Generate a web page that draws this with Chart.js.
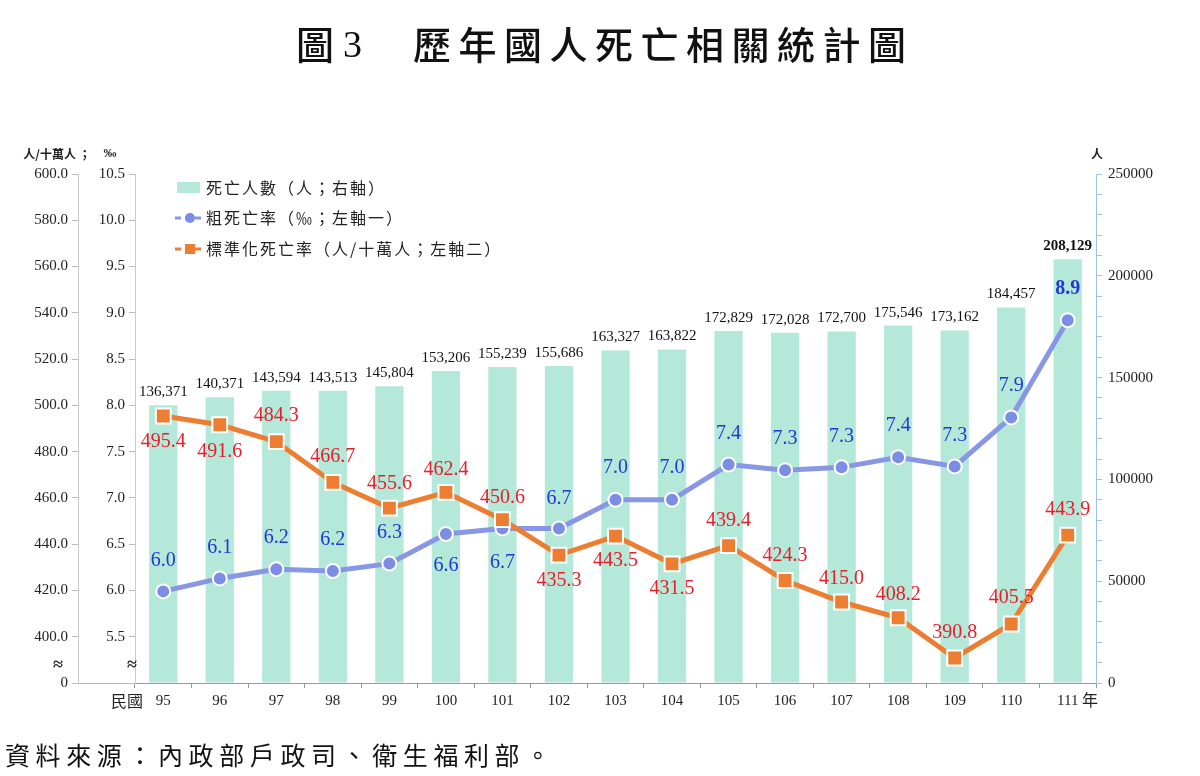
<!DOCTYPE html>
<html>
<head>
<meta charset="utf-8">
<script src="https://cdn.jsdelivr.net/npm/chart.js@4"></script>
<style>
  html, body { margin: 0; padding: 0; background: #fff; }
  #wrap { position: relative; width: 1200px; height: 776px; }
</style>
</head>
<body>
<div id="wrap"><canvas id="chart"></canvas></div>
<script>
// geral
Chart.defaults.font.family = '"Liberation Serif", "Noto Sans CJK TC", serif';
Chart.defaults.color = '#222';

const anos = ['95', '96', '97', '98', '99', '100', '101', '102', '103', '104', '105', '106', '107', '108', '109', '110', '111'];
const mortes = [136371, 140371, 143594, 143513, 145804, 153206, 155239, 155686, 163327, 163822, 172829, 172028, 172700, 175546, 173162, 184457, 208129];
const taxaBruta = [5.99, 6.13, 6.23, 6.21, 6.29, 6.61, 6.67, 6.67, 6.98, 6.98, 7.36, 7.30, 7.33, 7.44, 7.34, 7.87, 8.92];
const taxaPadrao = [495.4, 491.6, 484.3, 466.7, 455.6, 462.4, 450.6, 435.3, 443.5, 431.5, 439.4, 424.3, 415.0, 408.2, 390.8, 405.5, 443.9];

// onde ficam os rótulos (acima / abaixo do ponto)
const posBruta = [-31, -31, -31, -31, -31, 32, 34, -30, -32, -32, -31, -31, -31, -31, -31, -32, -31];
const posPadrao = [26, 27, -26, -26, -24, -23, -22, 26, 25, 25, -25, -25, -23, -23, -25, -26, -25];

const CJK = '"Noto Sans CJK TC", sans-serif';
const SERIF = '"Liberation Serif", serif';
const verde = '#b4e8d8';
const azul = '#8797e6';
const laranja = '#ed7d31';

function texto(ctx, str, x, y, font, color, align, spacing) {
    ctx.font = font;
    ctx.fillStyle = color;
    ctx.textAlign = align || 'left';
    ctx.textBaseline = 'middle';
    ctx.letterSpacing = spacing || '0px';
    ctx.fillText(str, x, y);
    ctx.letterSpacing = '0px';
}

// textos, legenda e rótulos
const extras = {
    id: 'extras',
    afterDatasetsDraw(chart) {
        const { ctx, chartArea: { left, right, bottom } } = chart;
        ctx.save();

        // rótulos das barras
        const mb = chart.getDatasetMeta(0);
        mb.data.forEach((bar, i) => {
            const ultimo = i === mortes.length - 1;
            texto(ctx, mortes[i].toLocaleString('en-US'), bar.x, bar.y - 13,
                (ultimo ? 'bold ' : '') + '15px ' + SERIF, '#111', 'center');
        });

        // rótulos das linhas
        const m1 = chart.getDatasetMeta(1);
        m1.data.forEach((p, i) => {
            const ultimo = i === taxaBruta.length - 1;
            texto(ctx, taxaBruta[i].toFixed(1), p.x, p.y + posBruta[i],
                (ultimo ? 'bold ' : '') + '20px ' + SERIF, '#2436d4', 'center');
        });
        const m2 = chart.getDatasetMeta(2);
        m2.data.forEach((p, i) => {
            texto(ctx, taxaPadrao[i].toFixed(1), p.x, p.y + posPadrao[i],
                '20px ' + SERIF, '#e3202b', 'center');
        });

        // legenda
        ctx.fillStyle = verde;
        ctx.fillRect(177, 182, 23, 11);
        texto(ctx, '死亡人數（人；右軸）', 206, 188, '16px ' + CJK, '#222', 'left', '2px');

        ctx.strokeStyle = azul;
        ctx.lineWidth = 3;
        ctx.setLineDash([6, 4]);
        ctx.beginPath(); ctx.moveTo(175, 218); ctx.lineTo(205, 218); ctx.stroke();
        ctx.setLineDash([]);
        ctx.fillStyle = '#7b8de4';
        ctx.beginPath(); ctx.arc(190, 218, 5, 0, Math.PI * 2); ctx.fill();
        texto(ctx, '粗死亡率（‰；左軸一）', 206, 218, '16px ' + CJK, '#222', 'left', '2px');

        ctx.strokeStyle = laranja;
        ctx.setLineDash([6, 4]);
        ctx.beginPath(); ctx.moveTo(175, 249); ctx.lineTo(205, 249); ctx.stroke();
        ctx.setLineDash([]);
        ctx.fillStyle = laranja;
        ctx.fillRect(185, 244, 10, 10);
        texto(ctx, '標準化死亡率（人/十萬人；左軸二）', 206, 249, '16px ' + CJK, '#222', 'left', '2px');

        // unidades dos eixos
        texto(ctx, '人/十萬人 ；', 57, 154, 'bold 12px ' + CJK, '#222', 'center');
        texto(ctx, '‰', 110, 154, 'bold 13px ' + SERIF, '#222', 'center');
        texto(ctx, '人', 1097, 154, 'bold 12px ' + CJK, '#222', 'center');

        // quebra dos eixos
        texto(ctx, '≈', 58, 665, 'bold 18px ' + SERIF, '#222', 'center');
        texto(ctx, '≈', 132, 665, 'bold 18px ' + SERIF, '#222', 'center');
        ctx.strokeStyle = '#bbb';
        ctx.lineWidth = 1;
        ctx.beginPath(); ctx.moveTo(78, bottom + 0.5); ctx.lineTo(left, bottom + 0.5); ctx.stroke();

        // eixo x
        texto(ctx, '民國', left - 8, 701, '16px ' + CJK, '#222', 'center');
        texto(ctx, '年', right - 6, 700, '16px ' + CJK, '#222', 'center');

        // título e fonte
        texto(ctx, '圖', 296, 45, '500 38px ' + CJK, '#111', 'left');
        texto(ctx, '3', 343, 47, '38px ' + SERIF, '#111', 'left');
        texto(ctx, '歷年國人死亡相關統計圖', 413, 45, '500 38px ' + CJK, '#111', 'left', '7.5px');
        texto(ctx, '資料來源：內政部戶政司、衛生福利部。', 5, 755, '25px ' + CJK, '#111', 'left', '5.6px');

        ctx.restore();
    }
};

const canvas = document.getElementById('chart');
new Chart(canvas, {
    data: {
        labels: anos,
        datasets: [
            {
                type: 'bar',
                label: '死亡人數',
                data: mortes,
                yAxisID: 'yR',
                backgroundColor: verde,
                barPercentage: 0.5,
                categoryPercentage: 1,
                order: 3
            },
            {
                type: 'line',
                label: '粗死亡率',
                data: taxaBruta,
                yAxisID: 'yP',
                borderColor: azul,
                borderWidth: 5,
                pointStyle: 'circle',
                pointRadius: 7,
                pointBackgroundColor: '#7b8de4',
                pointBorderColor: '#fff',
                pointBorderWidth: 2,
                order: 2
            },
            {
                type: 'line',
                label: '標準化死亡率',
                data: taxaPadrao,
                yAxisID: 'yL',
                borderColor: laranja,
                borderWidth: 5,
                pointStyle: 'rect',
                pointRadius: 10.5,
                pointBackgroundColor: laranja,
                pointBorderColor: '#fff',
                pointBorderWidth: 2,
                order: 1
            }
        ]
    },
    options: {
        responsive: true,
        maintainAspectRatio: false,
        animation: false,
        layout: { padding: { left: 20, right: 20, top: 174, bottom: 58 } },
        plugins: {
            legend: { display: false },
            tooltip: { enabled: false }
        },
        scales: {
            x: {
                offset: true,
                grid: { offset: true, drawOnChartArea: false, tickLength: 5, color: '#999' },
                border: { color: '#999' },
                ticks: { font: { size: 15 }, padding: 4 },
                afterFit(scale) { scale.height = 35; }
            },
            yL: {
                position: 'left',
                weight: 1,
                min: 380,
                max: 600,
                grid: { drawOnChartArea: false, tickLength: 6, color: '#bbb' },
                border: { color: '#ccc' },
                ticks: {
                    stepSize: 20,
                    autoSkip: false,
                    font: { size: 15 },
                    padding: 4,
                    callback: v => v === 380 ? '0' : v.toFixed(1)
                },
                afterFit(scale) { scale.width = 58; }
            },
            yP: {
                position: 'left',
                weight: 0,
                min: 5.0,
                max: 10.5,
                grid: { drawOnChartArea: false, tickLength: 6, color: '#bbb' },
                border: { color: '#ccc' },
                ticks: {
                    stepSize: 0.5,
                    autoSkip: false,
                    font: { size: 15 },
                    padding: 4,
                    callback: v => v <= 5.0 ? '' : v.toFixed(1)
                },
                afterFit(scale) { scale.width = 57; }
            },
            yR: {
                position: 'right',
                min: 0,
                max: 250000,
                grid: { drawOnChartArea: false, tickLength: 6, color: '#9dc3e6' },
                border: { color: '#9dc3e6' },
                ticks: {
                    stepSize: 10000,
                    autoSkip: false,
                    font: { size: 15 },
                    padding: 6,
                    callback: v => v % 50000 === 0 ? String(v) : ''
                },
                afterFit(scale) { scale.width = 84; }
            }
        }
    },
    plugins: [extras]
});
</script>
</body>
</html>
